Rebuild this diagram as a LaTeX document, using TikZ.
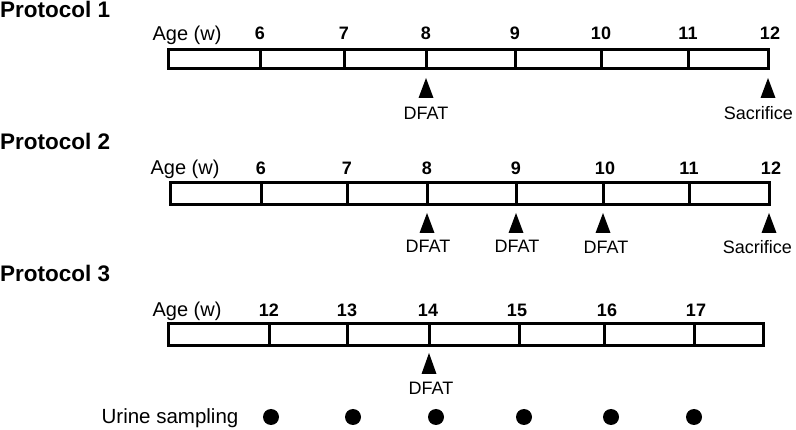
\documentclass[tikz,border=0pt]{standalone}
\usepackage{fontspec}
\setmainfont{Liberation Sans}

\begin{document}
\begin{tikzpicture}[x=1pt,y=-1pt,
    title/.style={anchor=base west,inner sep=0pt,font=\fontsize{22.5}{27}\selectfont\bfseries},
    agelabel/.style={anchor=base,inner sep=0pt,font=\fontsize{20}{24}\selectfont},
    week/.style={anchor=base,inner sep=0pt,font=\fontsize{18}{22}\selectfont\bfseries},
    event/.style={anchor=base,inner sep=0pt,font=\fontsize{18}{22}\selectfont},
    bar/.style={line width=3pt},
    dot/.style={circle,fill,inner sep=0pt,minimum size=16pt}]
    \useasboundingbox (0,0) rectangle (796,430);

    % Protocol 1
    \node (t1) at (0,18) [title] {Protocol 1};
    \node (age1) at (187,41) [agelabel] {Age (w)};
    \node (w1a) at (260,40) [week] {6};
    \node (w1b) at (344,40) [week] {7};
    \node (w1c) at (426,40) [week] {8};
    \node (w1d) at (515,40) [week] {9};
    \node (w1e) at (601,40) [week] {10};
    \node (w1f) at (688,40) [week] {11};
    \node (w1g) at (770,40) [week] {12};

    \draw [bar] (168,50) rectangle (768,69);
    \draw [bar] (260,50) -- (260,69);
    \draw [bar] (344,50) -- (344,69);
    \draw [bar] (426,50) -- (426,69);
    \draw [bar] (515,50) -- (515,69);
    \draw [bar] (601,50) -- (601,69);
    \draw [bar] (688,50) -- (688,69);

    \fill (426,78) -- (433.5,98) -- (418.5,98) -- cycle;
    \fill (768,78) -- (775.5,98) -- (760.5,98) -- cycle;
    \node (d1a) at (426,120) [event] {DFAT};
    \node (s1) at (793,120) [event,anchor=base east] {Sacrifice};

    % Protocol 2
    \node (t2) at (0,150) [title] {Protocol 2};
    \node (age2) at (185,175) [agelabel] {Age (w)};
    \node (w2a) at (261,175) [week] {6};
    \node (w2b) at (347,175) [week] {7};
    \node (w2c) at (427,175) [week] {8};
    \node (w2d) at (516,175) [week] {9};
    \node (w2e) at (605,175) [week] {10};
    \node (w2f) at (689,175) [week] {11};
    \node (w2g) at (771,175) [week] {12};

    \draw [bar] (170,183) rectangle (769,205);
    \draw [bar] (261,183) -- (261,205);
    \draw [bar] (347,183) -- (347,205);
    \draw [bar] (427,183) -- (427,205);
    \draw [bar] (516,183) -- (516,205);
    \draw [bar] (603,183) -- (603,205);
    \draw [bar] (689,183) -- (689,205);

    \fill (427,213) -- (434.5,233) -- (419.5,233) -- cycle;
    \fill (516,213) -- (523.5,233) -- (508.5,233) -- cycle;
    \fill (603,213) -- (610.5,233) -- (595.5,233) -- cycle;
    \fill (769,213) -- (776.5,233) -- (761.5,233) -- cycle;
    \node (d2a) at (428,253) [event] {DFAT};
    \node (d2b) at (517,253) [event] {DFAT};
    \node (d2c) at (606,254) [event] {DFAT};
    \node (s2) at (792,254) [event,anchor=base east] {Sacrifice};

    % Protocol 3
    \node (t3) at (0,282) [title] {Protocol 3};
    \node (age3) at (187,317) [agelabel] {Age (w)};
    \node (w3a) at (269,317) [week] {12};
    \node (w3b) at (347,317) [week] {13};
    \node (w3c) at (428,317) [week] {14};
    \node (w3d) at (517,317) [week] {15};
    \node (w3e) at (607,317) [week] {16};
    \node (w3f) at (696,317) [week] {17};

    \draw [bar] (168,324) rectangle (763,346);
    \draw [bar] (269,324) -- (269,346);
    \draw [bar] (347,324) -- (347,346);
    \draw [bar] (429,324) -- (429,346);
    \draw [bar] (519,324) -- (519,346);
    \draw [bar] (604,324) -- (604,346);
    \draw [bar] (694,324) -- (694,346);

    \fill (429,353) -- (436.5,374) -- (421.5,374) -- cycle;
    \node (d3a) at (431,395) [event] {DFAT};

    \node (urine) at (170,424) [agelabel,font=\fontsize{20.5}{24}\selectfont] {Urine sampling};
    \node (u1) at (271,417) [dot] {};
    \node (u2) at (353,417) [dot] {};
    \node (u3) at (436,417) [dot] {};
    \node (u4) at (524,417) [dot] {};
    \node (u5) at (611,417) [dot] {};
    \node (u6) at (694,417) [dot] {};
\end{tikzpicture}
\end{document}
